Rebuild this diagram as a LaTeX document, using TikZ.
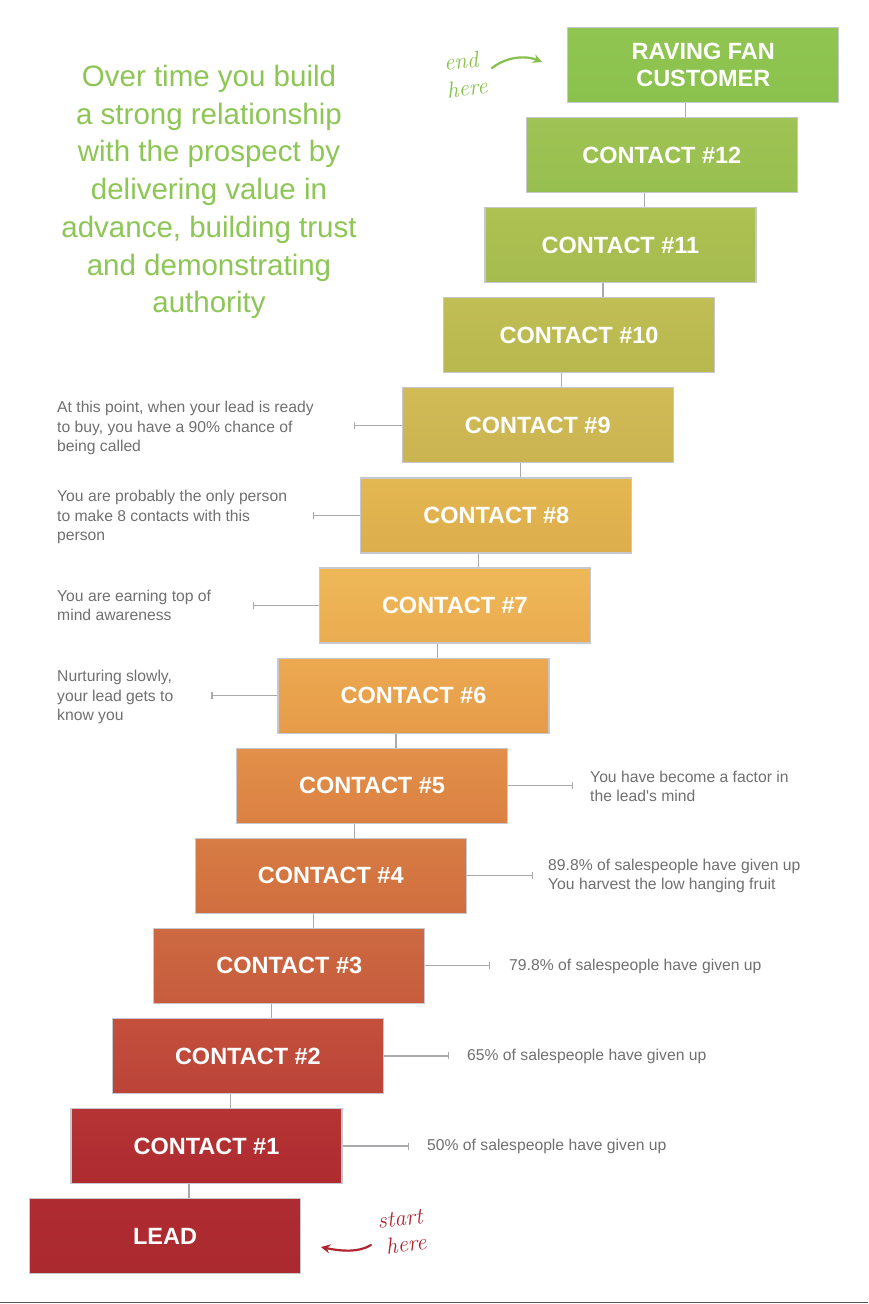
\documentclass[tikz,border=0pt]{standalone}
\usepackage{fontspec}
\newfontfamily\sans{Liberation Sans}
\usetikzlibrary{arrows.meta}
\definecolor{boxline}{HTML}{C6C8D0}
\definecolor{conn}{HTML}{A9A9AE}
\definecolor{anntext}{HTML}{707070}
\definecolor{titlegreen}{HTML}{8DC655}
\definecolor{handred}{HTML}{B0262E}
\definecolor{handgreen}{HTML}{86C04A}
\definecolor{frame}{HTML}{555555}
\definecolor{t0}{HTML}{AE2C31}\definecolor{u0}{HTML}{AB2A2F}
\definecolor{t1}{HTML}{B53434}\definecolor{u1}{HTML}{AE2B30}
\definecolor{t2}{HTML}{C4503C}\definecolor{u2}{HTML}{BB4339}
\definecolor{t3}{HTML}{CD6A42}\definecolor{u3}{HTML}{C65C3D}
\definecolor{t4}{HTML}{D77C44}\definecolor{u4}{HTML}{D06E3F}
\definecolor{t5}{HTML}{E2904A}\definecolor{u5}{HTML}{DB8142}
\definecolor{t6}{HTML}{ECA950}\definecolor{u6}{HTML}{E69B49}
\definecolor{t7}{HTML}{EEB857}\definecolor{u7}{HTML}{EAAC50}
\definecolor{t8}{HTML}{E3B752}\definecolor{u8}{HTML}{DDAE4C}
\definecolor{t9}{HTML}{D0BB57}\definecolor{u9}{HTML}{C9B451}
\definecolor{t10}{HTML}{C0BE55}\definecolor{u10}{HTML}{B8B84F}
\definecolor{t11}{HTML}{AEC153}\definecolor{u11}{HTML}{A6BC4E}
\definecolor{t12}{HTML}{9FC354}\definecolor{u12}{HTML}{97BF4F}
\definecolor{t13}{HTML}{90C551}\definecolor{u13}{HTML}{8BC14D}
\tikzset{
  stepbox/.style={draw=boxline, line width=1.2pt, minimum width=271pt, minimum height=75pt,
    anchor=north west, inner sep=0pt, text=white, align=center,
    font=\sans\bfseries\fontsize{23.5}{27}\selectfont},
  connline/.style={draw=conn, line width=1.2pt},
  annline/.style={draw=conn, line width=1.1pt, -{Bar[width=7pt,line width=1.1pt]}},
  anntxt/.style={anchor=west, align=left, text=anntext, inner sep=0pt,
    font=\sans\fontsize{15.7}{19.5}\selectfont},
  hand/.style={font=\itshape\fontsize{23}{23}\selectfont, inner sep=0pt, rotate=7},
}
\begin{document}
\begin{tikzpicture}[x=1pt,y=-1pt]
\useasboundingbox (0,0) rectangle (868,1304);
\fill[white] (0,0) rectangle (868,1304);
\draw[frame, line width=1.6pt] (0,1302.6) -- (868,1302.6);

% boxes
\foreach \i/\lab in {0/LEAD,1/CONTACT \#1,2/CONTACT \#2,3/CONTACT \#3,4/CONTACT \#4,5/CONTACT \#5,
  6/CONTACT \#6,7/CONTACT \#7,8/CONTACT \#8,9/CONTACT \#9,10/CONTACT \#10,11/CONTACT \#11,
  12/CONTACT \#12,13/{RAVING FAN\\CUSTOMER}}{
  \node[stepbox, top color=t\i, bottom color=u\i] (b\i) at ({29+41.4*\i},{1198-90.08*\i}) {\lab};
}
% connectors
\foreach \i [evaluate=\i as \j using int(\i+1)] in {0,...,12}{
  \draw[connline] ([xshift=160pt]b\i.north west) -- ([xshift=160pt]b\i.north west |- b\j.south);
}

% title
\node[align=center, text=titlegreen, inner sep=0pt,
  font=\sans\fontsize{29.5}{37.7}\selectfont] (title) at (209,192)
  {Over time you build\\a strong relationship\\with the prospect by\\delivering value in\\advance, building trust\\and demonstrating\\authority};

% left annotations
\path (b9.west) ++(-48,0) coordinate (k9);
\draw[annline] (b9.west) -- (k9);
\node[anntxt] (a9) at (57,428) {At this point, when your lead is ready\\to buy, you have a 90\% chance of\\being called};
\path (b8.west) ++(-47,0) coordinate (k8);
\draw[annline] (b8.west) -- (k8);
\node[anntxt] (a8) at (57,517) {You are probably the only person\\to make 8 contacts with this\\person};
\path (b7.west) ++(-66,0) coordinate (k7);
\draw[annline] (b7.west) -- (k7);
\node[anntxt] (a7) at (57,605.5) {You are earning top of\\mind awareness};
\path (b6.west) ++(-66,0) coordinate (k6);
\draw[annline] (b6.west) -- (k6);
\node[anntxt] (a6) at (57,697) {Nurturing slowly,\\your lead gets to\\know you};

% right annotations
\path (b5.east) ++(65,0) coordinate (k5);
\draw[annline] (b5.east) -- (k5);
\node[anntxt] (a5) at (590,786.5) {You have become a factor in\\the lead's mind};
\path (b4.east) ++(66,0) coordinate (k4);
\draw[annline] (b4.east) -- (k4);
\node[anntxt] (a4) at (548,876) {89.8\% of salespeople have given up\\You harvest the low hanging fruit};
\path (b3.east) ++(65,0) coordinate (k3);
\draw[annline] (b3.east) -- (k3);
\node[anntxt] (a3) at (509,966.5) {79.8\% of salespeople have given up};
\path (b2.east) ++(65,0) coordinate (k2);
\draw[annline] (b2.east) -- (k2);
\node[anntxt] (a2) at (467,1056.5) {65\% of salespeople have given up};
\path (b1.east) ++(66,0) coordinate (k1);
\draw[annline] (b1.east) -- (k1);
\node[anntxt] (a1) at (427,1146.5) {50\% of salespeople have given up};

% end here
\node[hand, text=handgreen] (endw) at (461,61) {end};
\node[hand, text=handgreen] (endh) at (467,88) {here};
\coordinate (e1) at (492,68);
\coordinate (e2) at (542,62);
\draw[handgreen, line width=2.2pt, line cap=round, -{Stealth[length=9pt,width=9pt]}]
  (e1) .. controls (506,57) and (525,55) .. (e2);
% start here
\node[hand, text=handred] (startw) at (400,1219) {start};
\node[hand, text=handred] (starth) at (406,1244) {here};
\coordinate (s1) at (371,1245);
\coordinate (s2) at (321,1247);
\draw[handred, line width=2.2pt, line cap=round, -{Stealth[length=9pt,width=9pt]}]
  (s1) .. controls (358,1253) and (340,1251) .. (s2);
\end{tikzpicture}
\end{document}
